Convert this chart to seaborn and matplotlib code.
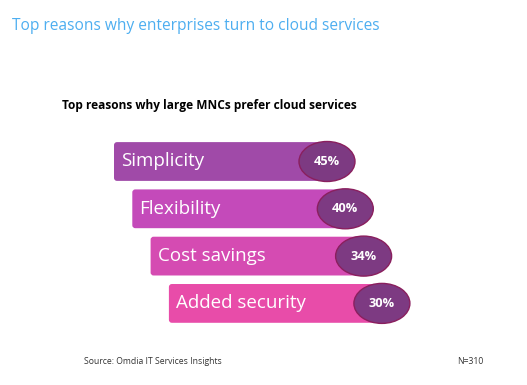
import matplotlib
matplotlib.use("Agg")
import matplotlib.pyplot as plt
from matplotlib.patches import FancyBboxPatch, Ellipse
import pandas as pd
import seaborn as sns

# data
reasons = ["Simplicity", "Flexibility", "Cost savings", "Added security"]
shares = [45, 40, 34, 30]
bar_colors = ["#A04AA8", "#C44ABA", "#D54BB2", "#E84CA9"]

title = "Top reasons why enterprises turn to cloud services"
subtitle = "Top reasons why large MNCs prefer cloud services"
source = "Source: Omdia IT Services Insights"
sample = "N=310"

df = pd.DataFrame({"reason": reasons, "share": shares})

sns.set_theme(style="white")
plt.rcParams["font.family"] = ["Open Sans", "DejaVu Sans"]

W, H = 527, 385
fig = plt.figure(figsize=(W / 100, H / 100), dpi=100)

# layout (pixels)
first_center = 161.5
step = 47.3
ax_top = first_center - step / 2
ax_h = step * len(reasons)
ax = fig.add_axes([0, 1 - (ax_top + ax_h) / H, 1, ax_h / H])

bar_len = 222
stagger = 18.3
first_left = 114
bar_h = 0.82

df["length"] = bar_len
sns.barplot(data=df, x="length", y="reason", hue="reason", palette=bar_colors,
            saturation=1, width=bar_h, legend=False, ax=ax, orient="h")
ax.set_xlim(0, W)
ax.set_ylim(len(reasons) - 0.5, -0.5)
ax.axis("off")

# turn the seaborn bars into staggered rounded bars
px_per_unit = step
patches = list(ax.patches)
for i, p in enumerate(patches):
    y0, h = p.get_y(), p.get_height()
    color = p.get_facecolor()
    p.remove()
    left = first_left + i * stagger
    rb = FancyBboxPatch((left, y0), bar_len, h,
                        boxstyle="round,pad=0,rounding_size=3",
                        mutation_aspect=1 / px_per_unit,
                        facecolor=color, edgecolor="none", zorder=2)
    ax.add_patch(rb)
    yc = y0 + h / 2
    ax.text(left + 7, yc, reasons[i], color="white", fontsize=13.5,
            ha="left", va="center", zorder=4)
    ex = left + 213
    ax.add_patch(Ellipse((ex, yc), 56, 40 / px_per_unit, facecolor="#7D3A82",
                         edgecolor="#8A1F5E", lw=1.0, zorder=3))
    ax.text(ex, yc, f"{shares[i]}%", color="white", fontsize=9.2,
            fontweight="bold", ha="center", va="center", zorder=4)

fig.text(12 / W, 1 - 26 / H, title, color="#4DAEF0", fontsize=11.2,
         ha="left", va="center")
fig.text(62 / W, 1 - 105 / H, subtitle, color="black", fontsize=8.55,
         fontweight="bold", ha="left", va="center")
fig.text(84 / W, 1 - 361 / H, source, color="#333333", fontsize=6.2,
         ha="left", va="center")
fig.text(483 / W, 1 - 361 / H, sample, color="#333333", fontsize=6.2,
         ha="right", va="center")

fig.savefig("out.png", dpi=100)
